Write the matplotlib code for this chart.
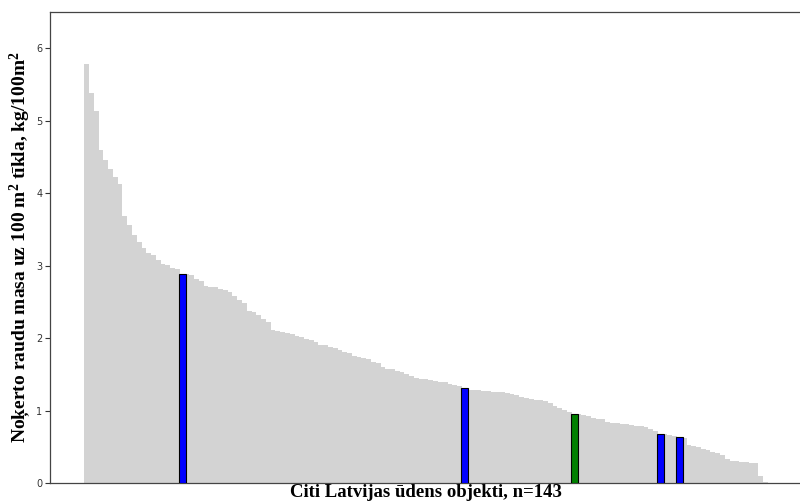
import matplotlib
matplotlib.use("Agg")
import matplotlib.pyplot as plt
import numpy as np

plt.rcParams["mathtext.fontset"] = "custom"
plt.rcParams["mathtext.bf"] = "Liberation Serif:bold"
plt.rcParams["mathtext.rm"] = "Liberation Serif:bold"
plt.rcParams["mathtext.default"] = "bf"

# Catch per 100 m2 of net for each water body, sorted descending
catch_values = [
    5.78, 5.38, 5.14, 4.60, 4.46, 4.34, 4.22, 4.13, 3.68, 3.56,
    3.42, 3.33, 3.24, 3.17, 3.15, 3.08, 3.02, 3.01, 2.97, 2.95,
    2.89, 2.88, 2.87, 2.82, 2.79, 2.72, 2.71, 2.70, 2.68, 2.66,
    2.64, 2.58, 2.52, 2.49, 2.38, 2.36, 2.32, 2.27, 2.22, 2.11,
    2.10, 2.08, 2.07, 2.05, 2.03, 2.01, 1.99, 1.97, 1.95, 1.91,
    1.90, 1.88, 1.86, 1.84, 1.81, 1.79, 1.75, 1.74, 1.72, 1.71,
    1.67, 1.66, 1.60, 1.58, 1.57, 1.54, 1.53, 1.50, 1.48, 1.45,
    1.44, 1.43, 1.42, 1.41, 1.40, 1.39, 1.37, 1.35, 1.34, 1.31,
    1.29, 1.28, 1.28, 1.27, 1.27, 1.26, 1.26, 1.25, 1.24, 1.23,
    1.21, 1.18, 1.17, 1.16, 1.15, 1.14, 1.13, 1.11, 1.06, 1.03,
    1.01, 0.98, 0.95, 0.95, 0.94, 0.93, 0.90, 0.89, 0.88, 0.84,
    0.83, 0.83, 0.82, 0.81, 0.80, 0.79, 0.78, 0.77, 0.74, 0.72,
    0.68, 0.67, 0.66, 0.65, 0.63, 0.62, 0.53, 0.51, 0.49, 0.47,
    0.45, 0.43, 0.41, 0.38, 0.33, 0.31, 0.30, 0.29, 0.29, 0.28,
    0.27, 0.09, 0.02,
]

# Highlighted water bodies (position in the sorted list) and their colours
highlight_index = [20, 79, 102, 120, 124]
highlight_color = ["#0000ff", "#0000ff", "#008000", "#0000ff", "#0000ff"]

y_ticks = [0, 1, 2, 3, 4, 5, 6]

fig = plt.figure(figsize=(8.0, 5.04), dpi=100)
ax = fig.add_axes([50 / 800, 21 / 504, 752 / 800, 471 / 504])

x = np.arange(len(catch_values))
ax.bar(x, catch_values, width=1.0, color="#d3d3d3", edgecolor="none")

for idx, col in zip(highlight_index, highlight_color):
    ax.bar(idx, catch_values[idx], width=1.4, color=col,
           edgecolor="black", linewidth=0.8, zorder=3)

ax.set_ylim(0, 6.5)
ax.set_yticks(y_ticks)
ax.set_xticks([])
ax.tick_params(axis="y", labelsize=7, length=3.5, pad=2, colors="#333333")

for side in ax.spines.values():
    side.set_color("#444444")
    side.set_linewidth(0.9)

ax.set_ylabel("Noķerto raudu masa uz 100 m$^2$ tīkla, kg/100m$^2$",
              fontfamily="Liberation Serif", fontweight="bold", fontsize=14)
ax.yaxis.set_label_coords(-0.023, 0.5)
ax.set_xlabel("Citi Latvijas ūdens objekti, n=143",
              fontfamily="Liberation Serif", fontweight="bold", fontsize=13.5,
              labelpad=1)

fig.savefig("out.png", dpi=100)
